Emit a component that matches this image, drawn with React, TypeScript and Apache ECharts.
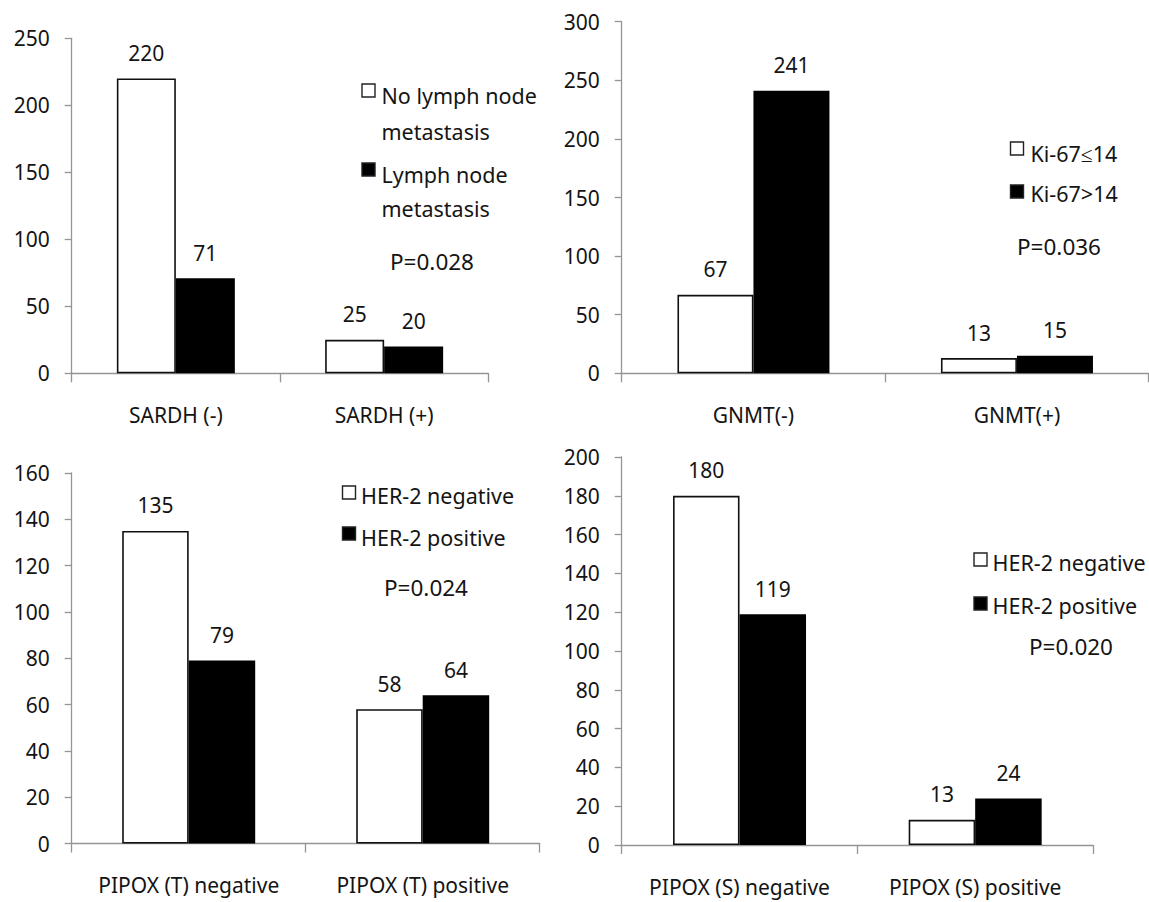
import React, { useEffect, useRef } from "react";
import * as echarts from "echarts";

const sardhCats = ["SARDH (-)", "SARDH (+)"];
const sardhNoLN = [220, 25];
const sardhLN = [71, 20];

const gnmtCats = ["GNMT(-)", "GNMT(+)"];
const ki67Low = [67, 13];
const ki67High = [241, 15];

const pipoxTCats = ["PIPOX (T) negative", "PIPOX (T) positive"];
const her2NegT = [135, 58];
const her2PosT = [79, 64];

const pipoxSCats = ["PIPOX (S) negative", "PIPOX (S) positive"];
const her2NegS = [180, 13];
const her2PosS = [119, 24];

const yMax = [250, 300, 160, 200];
const yStep = [50, 50, 20, 20];

const FONT = "Noto Sans";
const TXT = "#141414";
const AXIS = "#959595";

export default function App() {
  const ref = useRef<HTMLDivElement>(null);
  useEffect(() => {
    if (!ref.current) return;
    const chart = echarts.init(ref.current, undefined, { renderer: "svg" });
    const grids = [
      { left: 71.7, top: 38.3, width: 416.6, height: 335 },
      { left: 621.7, top: 21.7, width: 527, height: 351.6 },
      { left: 71.7, top: 473, width: 468, height: 370.5 },
      { left: 621.7, top: 457, width: 471.3, height: 388 },
    ];
    const cats = [sardhCats, gnmtCats, pipoxTCats, pipoxSCats];
    const barW = [59, 76, 66.5, 66.5];
    const pairs: [string, number[], string, number[]][] = [
      ["No lymph node metastasis", sardhNoLN, "Lymph node metastasis", sardhLN],
      ["Ki-67≤14", ki67Low, "Ki-67>14", ki67High],
      ["HER-2 negative", her2NegT, "HER-2 positive", her2PosT],
      ["HER-2 negative", her2NegS, "HER-2 positive", her2PosS],
    ];
    const xAxis = cats.map((c, i) => ({
      type: "category",
      gridIndex: i,
      data: c,
      axisLine: { lineStyle: { color: AXIS, width: 1.3 } },
      axisTick: { show: true, length: 9, lineStyle: { color: AXIS, width: 1.3 } },
      axisLabel: {
        color: TXT,
        fontSize: 21,
        fontFamily: FONT,
        margin: 31,
        interval: 0,
        hideOverlap: false,
      },
    }));
    const yAxis = yMax.map((m, i) => ({
      type: "value",
      gridIndex: i,
      min: 0,
      max: m,
      interval: yStep[i],
      splitLine: { show: false },
      axisLine: { show: true, lineStyle: { color: AXIS, width: 1.3 } },
      axisTick: { show: true, length: 7, lineStyle: { color: AXIS, width: 1.3 } },
      axisLabel: { color: TXT, fontSize: 21, fontFamily: FONT, margin: 22 },
    }));
    const series: any[] = [];
    pairs.forEach((p, i) => {
      const lbl = {
        show: true,
        position: "top",
        distance: 15,
        color: TXT,
        fontSize: 21,
        fontFamily: FONT,
      };
      series.push({
        type: "bar",
        name: p[0],
        xAxisIndex: i,
        yAxisIndex: i,
        data: p[1],
        barWidth: barW[i],
        barGap: "0%",
        itemStyle: { color: "#ffffff", borderColor: "#111111", borderWidth: 1.6 },
        label: lbl,
      });
      series.push({
        type: "bar",
        name: p[2],
        xAxisIndex: i,
        yAxisIndex: i,
        data: p[3],
        barWidth: barW[i],
        barGap: "0%",
        itemStyle: { color: "#000000", borderColor: "#000000", borderWidth: 1.6 },
        label: lbl,
      });
    });

    const sq = (x: number, y: number, filled: boolean) => ({
      type: "rect",
      shape: { x, y, width: 13, height: 13 },
      style: { fill: filled ? "#000" : "#fff", stroke: "#222", lineWidth: 1.4 },
    });
    const tx = (x: number, y: number, text: string, size = 21.5, align = "left") => ({
      type: "text",
      x,
      y,
      style: {
        text,
        fill: TXT,
        fontSize: size,
        fontFamily: FONT,
        align,
        verticalAlign: "middle",
      },
    });
    const graphic = [
      sq(362, 84, false),
      tx(381.5, 95, "No lymph node"),
      tx(381.5, 131.5, "metastasis"),
      sq(362, 163, true),
      tx(381.5, 174, "Lymph node"),
      tx(381.5, 208, "metastasis"),
      tx(432, 261, "P=0.028", 22.5, "center"),

      sq(1010.5, 142, false),
      tx(1030.5, 153, "Ki-67≤14"),
      sq(1010.5, 185, true),
      tx(1030.5, 193, "Ki-67>14"),
      tx(1059, 246, "P=0.036", 22.5, "center"),

      sq(342.5, 486, false),
      tx(361, 495, "HER-2 negative"),
      sq(342.5, 527, true),
      tx(361, 537, "HER-2 positive"),
      tx(426, 587, "P=0.024", 22.5, "center"),

      sq(974, 553, false),
      tx(992.5, 562, "HER-2 negative"),
      sq(974, 597, true),
      tx(992.5, 605, "HER-2 positive"),
      tx(1071, 646, "P=0.020", 22.5, "center"),
    ];

    chart.setOption({
      animation: false,
      backgroundColor: "#ffffff",
      grid: grids,
      xAxis,
      yAxis,
      series,
      graphic,
    });
    return () => chart.dispose();
  }, []);
  return (
    <div
      ref={ref}
      style={{ position: "fixed", left: 0, top: 0, width: 1149, height: 902, background: "#fff" }}
    />
  );
}
